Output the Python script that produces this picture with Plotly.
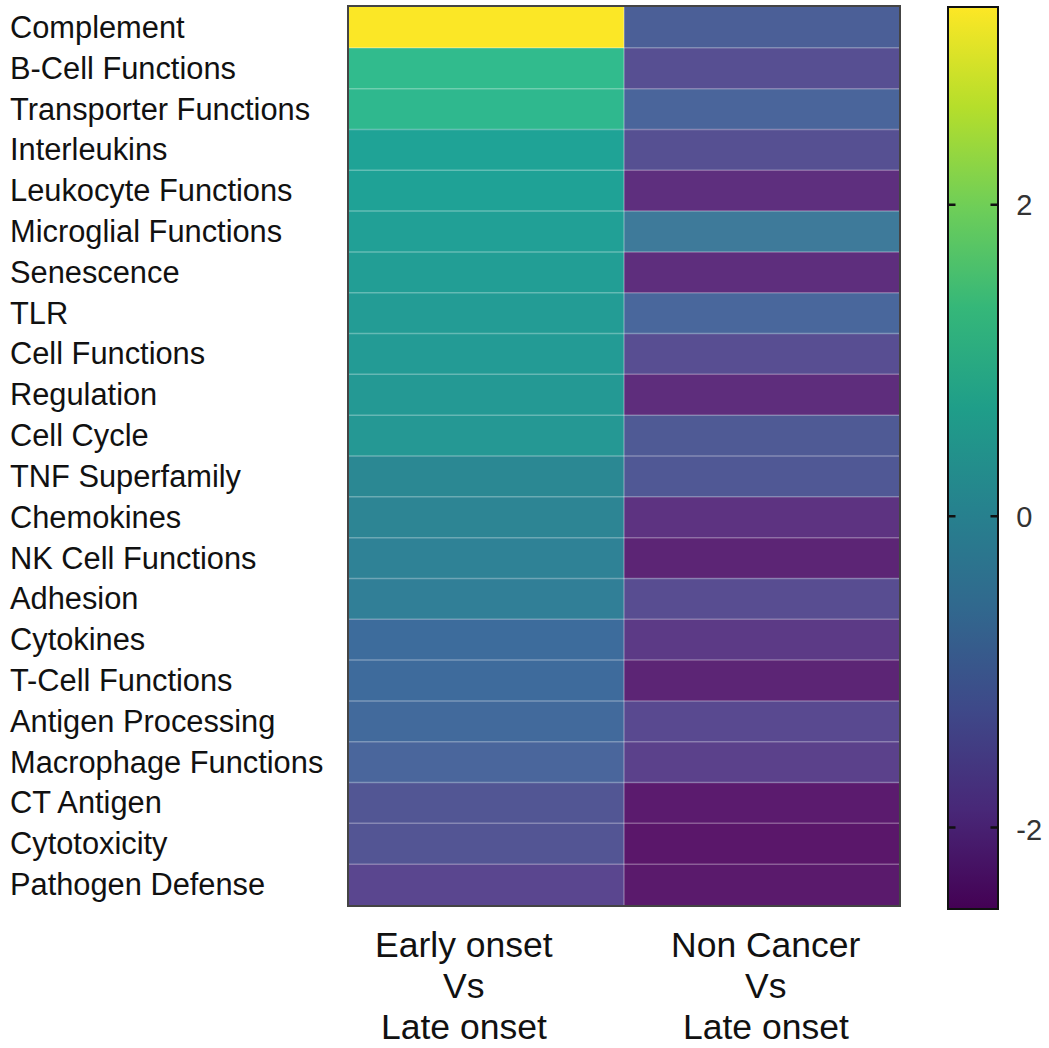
import plotly.graph_objects as go

# Immune pathway categories (top to bottom)
pathways = [
    "Complement", "B-Cell Functions", "Transporter Functions", "Interleukins",
    "Leukocyte Functions", "Microglial Functions", "Senescence", "TLR",
    "Cell Functions", "Regulation", "Cell Cycle", "TNF Superfamily",
    "Chemokines", "NK Cell Functions", "Adhesion", "Cytokines",
    "T-Cell Functions", "Antigen Processing", "Macrophage Functions",
    "CT Antigen", "Cytotoxicity", "Pathogen Defense",
]

# Comparison columns
comparisons = ["Early onset Vs Late onset", "Non Cancer Vs Late onset"]
comparison_lines = [
    ["Early onset", "Vs", "Late onset"],
    ["Non Cancer", "Vs", "Late onset"],
]

# Pathway scores per comparison
early_vs_late = [
    3.25, 1.30, 1.25, 0.84, 0.82, 0.78, 0.73, 0.70, 0.67, 0.64, 0.61,
    0.20, 0.15, 0.09, 0.03, -0.49, -0.52, -0.58, -0.70, -1.12, -1.15, -1.53,
]
noncancer_vs_late = [
    -0.85, -1.35, -0.72, -1.32, -1.87, -0.20, -1.88, -0.68, -1.38, -1.90, -1.00,
    -1.05, -1.80, -2.05, -1.40, -1.70, -2.05, -1.47, -1.60, -2.22, -2.30, -2.25,
]

# Colour scale limits and colorbar ticks
zmin, zmax = -2.51, 3.27
cbar_ticks = [-2, 0, 2]

# Cell palette (slightly warmer viridis rendering used for the tiles)
cell_palette = [
    (-2.51, "#5a1266"), (-2.30, "#5a176a"), (-1.88, "#5e2e7d"),
    (-1.50, "#5a4890"), (-1.35, "#574f92"), (-1.12, "#525694"),
    (-0.85, "#4b5f97"), (-0.70, "#4a669c"), (-0.50, "#3d6c9c"),
    (-0.20, "#3e7a9a"), (0.03, "#317f97"), (0.20, "#2b8893"),
    (0.60, "#259794"), (0.84, "#1fa396"), (1.30, "#31bb8d"),
    (2.00, "#7ccf6a"), (3.27, "#fde725"),
]
cell_colorscale = [[(v - zmin) / (zmax - zmin), c] for v, c in cell_palette]

z = [[a, b] for a, b in zip(early_vs_late, noncancer_vs_late)]

W, H = 1049, 1048
ML, MR, MT, MB = 349, 150, 5, 143
PW, PH = W - ML - MR, H - MT - MB
FONT = "Arial, Liberation Sans, sans-serif"

CB_LEFT = 948
CB_THICK = 50
CB_LEN = 902

fig = go.Figure()
fig.add_trace(go.Heatmap(
    z=z,
    x=comparisons,
    y=pathways,
    zmin=zmin,
    zmax=zmax,
    colorscale=cell_colorscale,
    showscale=False,
))

# Colour key (standard viridis)
fig.add_trace(go.Scatter(
    x=[None], y=[None], mode="markers", hoverinfo="skip", showlegend=False,
    marker=dict(
        color=[0], cmin=zmin, cmax=zmax, colorscale="Viridis", showscale=True,
        colorbar=dict(
            x=(CB_LEFT - ML) / PW,
            xanchor="left",
            xpad=0,
            y=1,
            yanchor="top",
            ypad=0,
            thickness=CB_THICK,
            lenmode="pixels",
            len=CB_LEN,
            outlinewidth=2,
            outlinecolor="#111111",
            tickmode="array",
            tickvals=cbar_ticks,
            ticktext=[str(t) for t in cbar_ticks],
            ticks="outside",
            ticklen=12,
            tickwidth=1,
            tickcolor="rgba(0,0,0,0)",
            tickfont=dict(family=FONT, size=29, color="#333333"),
        ),
    ),
))

# Light separators between rows and between the two columns
shapes = []
for i in range(len(pathways) - 1):
    shapes.append(dict(
        type="line", xref="paper", yref="y", x0=0, x1=1, y0=i + 0.5, y1=i + 0.5,
        line=dict(color="rgba(255,255,255,0.3)", width=1.5), layer="above",
    ))
shapes.append(dict(
    type="line", xref="x", yref="paper", x0=0.5, x1=0.5, y0=0, y1=1,
    line=dict(color="rgba(255,255,255,0.3)", width=1.5), layer="above",
))

annotations = []

# Short tick marks on both inner edges of the colour key
for t in cbar_ticks:
    yp = 1 - (zmax - t) / (zmax - zmin) * CB_LEN / PH
    for edge_px, dx in ((CB_LEFT, 9), (CB_LEFT + CB_THICK, -9)):
        annotations.append(dict(
            text="", xref="paper", yref="paper", x=(edge_px - ML) / PW, y=yp,
            showarrow=True, arrowhead=0, arrowwidth=2.5, arrowcolor="#111111",
            ax=dx, ay=0, axref="pixel", ayref="pixel", standoff=0, startstandoff=0,
        ))

# Left-aligned pathway names
for name in pathways:
    annotations.append(dict(
        text=name, xref="paper", yref="y", x=(8 - ML) / PW, y=name,
        xanchor="left", yanchor="middle", showarrow=False,
        font=dict(family=FONT, size=30.8, color="#111111"),
    ))

# Column titles below the heatmap, one line per annotation
line_centers_px = [945, 986, 1027]
col_shift = [-23, 4]
for col, lines, shift in zip(comparisons, comparison_lines, col_shift):
    for txt, ypx in zip(lines, line_centers_px):
        annotations.append(dict(
            text=txt, xref="x", yref="paper", x=col, xshift=shift,
            y=(MT + PH - ypx) / PH, xanchor="center", yanchor="middle",
            showarrow=False, font=dict(family=FONT, size=35.5, color="#111111"),
        ))

fig.update_layout(
    width=W,
    height=H,
    margin=dict(l=ML, r=MR, t=MT, b=MB),
    paper_bgcolor="white",
    plot_bgcolor="white",
    showlegend=False,
    shapes=shapes,
    annotations=annotations,
    xaxis=dict(showticklabels=False, ticks="", showgrid=False, zeroline=False,
               showline=True, mirror=True, linecolor="#444444", linewidth=2),
    yaxis=dict(showticklabels=False, ticks="", showgrid=False, zeroline=False,
               autorange="reversed",
               showline=True, mirror=True, linecolor="#444444", linewidth=2),
)

fig.write_html("out.html")
